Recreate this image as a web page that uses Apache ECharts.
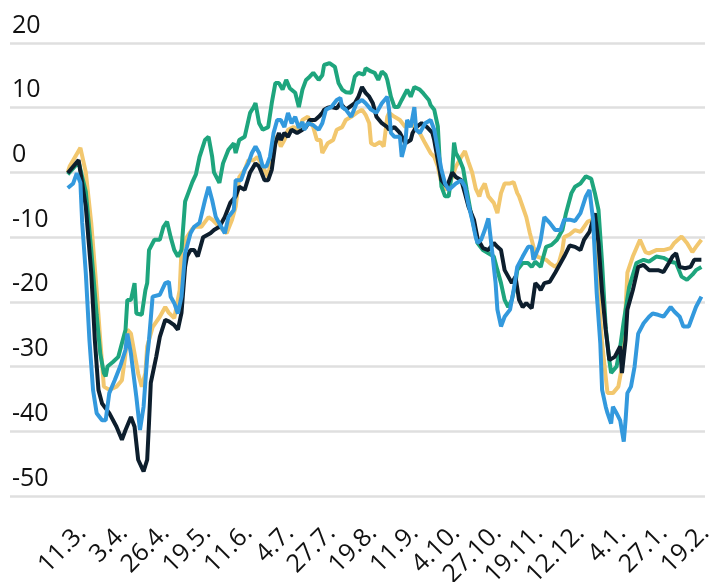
<!DOCTYPE html>
<html><head><meta charset="utf-8">
<script src="https://cdn.jsdelivr.net/npm/echarts@6/dist/echarts.min.js"></script>
<style>html,body{margin:0;padding:0;background:#fff}#c{width:716px;height:582px}</style>
</head><body><div id="c"></div>
<script>
// x values: days since 3 March 2020
const tickDays = [8,31,54,77,100,123,146,169,192,215,238,261,284,307,330,353];
const tickLabels = ['11.3.','3.4.','26.4.','19.5.','11.6.','4.7.','27.7.','19.8.','11.9.','4.10.','27.10.','19.11.','12.12.','4.1.','27.1.','19.2.'];
const yTicks = [-50,-40,-30,-20,-10,0,10,20];

const yellowSeries = [[0,0],[1,0.9],[7,3.8],[8,3.5],[10,0],[13,-7.8],[16,-18.2],[18,-25.9],[20,-33.1],[23,-33.6],[27,-33.1],[30,-32.1],[32,-28],[33,-24.3],[35,-24.9],[37,-28],[39,-31.1],[41,-33.1],[43,-31],[44,-26.9],[47,-23.9],[51,-22.3],[54,-20.8],[56,-21.7],[59,-22.5],[62,-18.2],[63,-12],[66,-10],[69,-8.7],[71,-8.4],[74,-8.4],[78,-6.9],[80,-7.3],[84,-8.4],[88,-9.4],[91,-7.3],[93,-5.3],[95,-0.7],[98,0.4],[100,1.9],[103,1.9],[105,2.4],[108,0.9],[111,-0.7],[114,5],[116,5.5],[118,4],[120,5],[122,6.6],[125,7],[128,6.6],[130,8.1],[133,8.6],[136,7],[138,5],[140,5],[141,3],[144,4.5],[147,5],[149,6.6],[152,7],[154,8.1],[157,8.6],[160,9.2],[163,9.7],[165,8.9],[167,7.6],[168,4.5],[170,4.2],[173,4.7],[175,4],[177,8.6],[178,9.2],[181,8.6],[184,8.1],[187,7],[190,7.6],[192,7],[195,6.1],[198,4.5],[201,3],[203,2.4],[205,0.9],[207,-1.7],[210,-2.7],[213,-0.7],[215,0.9],[218,2.4],[220,3.3],[222,1.6],[224,0],[226,-2.5],[228,-3.7],[229,-2.7],[231,-1.7],[233,-3.7],[236,-4.7],[238,-6.3],[240,-3.2],[242,-1.7],[245,-1.7],[247,-1.5],[249,-3.2],[250,-3.7],[252,-5.3],[254,-6.9],[256,-9.4],[258,-11.5],[260,-13],[262,-13.2],[265,-13.5],[267,-14],[270,-14.6],[272,-14],[274,-12],[275,-10],[278,-9.6],[281,-8.9],[284,-9.2],[286,-8.4],[288,-7.6],[291,-7.3],[292,-9],[294,-18.6],[296,-26.4],[298,-31.6],[299,-34.1],[302,-34.1],[305,-33.1],[307,-30],[309,-21.2],[310,-15.5],[313,-13],[317,-10.4],[320,-12.3],[322,-12.5],[326,-12],[330,-12],[334,-11.7],[336,-10.9],[340,-9.9],[343,-10.9],[346,-12.3],[348,-11.5],[351,-10.4]];

const greenSeries = [[0,-0.3],[6,1.6],[10,-3],[13,-12],[16,-22],[18,-28],[20,-31],[21,-31.5],[22,-30],[25,-29.3],[28,-28.5],[30,-26.4],[32,-24.3],[33,-19.7],[35,-19.7],[37,-17.1],[38,-21.8],[41,-22],[43,-18.2],[44,-17.1],[45,-12],[48,-10.4],[51,-10.4],[53,-8.4],[55,-7.6],[57,-10],[59,-12],[61,-13],[63,-12],[65,-4.5],[67,-3],[69,-1.5],[71,-0.3],[73,2.4],[76,5],[78,5.5],[80,2.4],[81,0],[84,-1.6],[86,1.4],[89,3.5],[92,4.5],[93,3],[95,5],[98,5.5],[101,9.2],[103,10.1],[104,10.7],[106,7.6],[108,6.6],[111,7],[113,10.7],[115,13.8],[117,13.8],[119,12.8],[121,14.3],[123,13],[126,12.3],[128,10.1],[130,12.8],[132,14.3],[134,14.8],[136,15.4],[139,14.3],[141,15],[142,16.6],[145,16.9],[148,16.3],[150,13.8],[152,12.8],[154,12.4],[157,12.3],[159,14.8],[161,15.4],[164,15.1],[165,16.1],[168,15.6],[170,15.4],[172,14.3],[174,15.6],[176,15.1],[177,14.3],[179,11.7],[181,10.1],[183,10.1],[185,11.2],[188,12.8],[190,11.7],[192,13.2],[195,12.8],[197,12.2],[200,11.2],[201,10.4],[203,9.7],[205,7.1],[206,1.9],[207,-2.2],[209,-3.7],[211,-3.7],[213,0.4],[214,4.6],[215,3],[217,2],[219,0.6],[221,-2.7],[223,-5.8],[225,-8.4],[227,-10.9],[230,-12],[233,-12.5],[236,-13],[238,-15.1],[240,-17.1],[242,-19.7],[244,-20.8],[246,-19.7],[248,-17.1],[249,-15.1],[252,-14],[255,-14],[257,-14.6],[259,-13.8],[262,-14.6],[263,-13.5],[265,-11.5],[268,-11.2],[271,-10.4],[274,-8.9],[276,-6.3],[279,-3.2],[281,-2.2],[284,-1.7],[287,-0.6],[288,-0.4],[290,-1],[292,-3.2],[294,-5.8],[296,-14],[298,-24],[300,-29],[301,-31],[304,-30],[306,-27],[308,-23],[311,-17.7],[315,-14],[319,-13.5],[322,-13.8],[326,-13],[330,-13.2],[334,-13.8],[337,-14],[340,-16.1],[343,-16.6],[346,-15.8],[348,-15.1],[351,-14.6]];

const navySeries = [[0,-0.1],[6,1.9],[10,-5.3],[13,-15.5],[15,-25.9],[17,-33.6],[19,-35.7],[23,-37.2],[27,-39.3],[30,-41.3],[32,-39.8],[35,-37.8],[37,-39.3],[39,-44.4],[42,-46.2],[44,-44.4],[45,-38.7],[46,-32.5],[49,-28.5],[51,-25.4],[54,-22.8],[56,-23],[59,-23.6],[61,-24.3],[63,-21.7],[65,-14.6],[66,-13],[68,-12],[70,-12],[72,-13],[75,-10],[79,-9.4],[81,-8.9],[84,-8.4],[87,-6.9],[90,-4.7],[93,-3.7],[95,-2.2],[98,-2.7],[101,0],[104,1.4],[106,0.9],[109,-1.2],[111,-1.2],[113,0.4],[115,4.5],[117,6.1],[118,5],[120,6.1],[122,5.5],[124,6.6],[127,6.1],[130,6.6],[132,7],[134,8.1],[137,8.1],[139,8.6],[141,9.2],[142,9.7],[144,10],[146,10.1],[149,9.9],[151,10.7],[154,9.7],[156,10.1],[159,10.7],[161,11.7],[163,13.2],[165,12.3],[167,11.7],[169,10.7],[171,8.6],[174,7.6],[177,7],[178,6.6],[181,7],[184,6.1],[187,4.5],[190,5],[191,6.1],[193,7],[196,7.6],[199,7],[202,6.1],[203,5],[205,1.9],[207,-1.2],[210,-2.2],[213,0],[215,-0.7],[218,-1.2],[220,-3.2],[222,-5.3],[225,-7.3],[227,-10.2],[230,-11.7],[233,-12],[236,-10.9],[238,-11.5],[240,-12],[242,-15.1],[244,-16.1],[246,-17.1],[248,-16.1],[250,-19.7],[252,-20.8],[254,-20.2],[257,-21],[259,-17.1],[261,-17.7],[262,-18.2],[264,-17.1],[267,-16.9],[270,-15.5],[273,-14],[275,-13],[278,-11.3],[281,-11.5],[284,-12],[286,-10.4],[289,-9.2],[291,-7.3],[292,-6.3],[294,-10.9],[296,-18.6],[298,-24.3],[300,-29],[303,-28.5],[306,-26.9],[307,-31],[309,-25.9],[310,-21.2],[313,-18.2],[316,-14.6],[319,-14.3],[322,-15.1],[324,-15.1],[327,-15.1],[330,-15.4],[333,-14],[335,-13],[337,-12.5],[339,-14.6],[342,-14.8],[345,-14.6],[347,-13.5],[351,-13.5]];

const blueSeries = [[0,-2.4],[3,-1.7],[5,-0.1],[7,-1.6],[8,-7.8],[10,-15.6],[12,-25.9],[14,-33.6],[16,-37.2],[19,-38.3],[21,-38.3],[23,-34.1],[26,-32.1],[29,-30],[32,-27.4],[33,-24.9],[35,-28],[38,-34.7],[40,-39.8],[42,-36.2],[44,-28.5],[45,-25.9],[47,-19.2],[51,-18.9],[54,-17.1],[56,-16.9],[57,-19.2],[59,-20.2],[61,-21.8],[63,-19.2],[65,-12.5],[66,-11.5],[68,-9.4],[70,-8.4],[73,-7.8],[76,-4.3],[78,-2.2],[80,-4.3],[82,-6.9],[85,-8.4],[87,-9.4],[89,-6.9],[92,-5.8],[93,-1.2],[96,-1.2],[98,0.4],[100,1.4],[102,3],[104,4],[106,3],[108,0.9],[110,0.9],[112,2.4],[114,6.1],[116,8.1],[118,8.1],[120,7],[122,9.2],[124,7.6],[126,8.6],[128,6.9],[130,7.8],[131,6.6],[133,7.6],[136,7.3],[139,6.6],[140,6.6],[141,7.6],[143,9.7],[146,10.1],[149,11.2],[151,11.5],[152,10.1],[154,9.7],[157,8.6],[160,10.7],[163,11.2],[165,10.7],[168,9.7],[171,9.2],[174,10.7],[177,11.7],[178,9.7],[179,6.1],[181,5.5],[184,5.5],[185,2.4],[187,4.5],[188,8.1],[190,7],[192,10.1],[193,6.6],[195,6.1],[198,7.6],[201,8.1],[203,6.6],[205,3.5],[207,0.4],[209,-1.7],[211,-2.7],[213,-2.2],[215,-1.7],[218,-1.2],[220,-2.2],[222,-5],[224,-7.3],[226,-10],[227,-10.9],[229,-10.4],[231,-8.9],[233,-7.1],[235,-12],[237,-17.1],[238,-21.2],[240,-23.8],[242,-22.3],[245,-21.2],[247,-18.2],[249,-14.6],[252,-13],[255,-11.5],[257,-11.5],[258,-13.5],[261,-11.5],[262,-10.4],[264,-6.9],[267,-7.8],[270,-8.9],[273,-8.9],[275,-7.3],[278,-7.3],[281,-7.5],[284,-6.3],[287,-3.7],[289,-2.7],[291,-7.3],[293,-18.6],[295,-26.4],[296,-33.6],[298,-36.2],[299,-37.2],[301,-38.8],[302,-36.2],[304,-37.2],[306,-38.3],[308,-41.6],[309,-38.3],[310,-34.1],[312,-33.1],[314,-30],[316,-24.9],[319,-23.3],[322,-22.3],[324,-21.8],[327,-22],[330,-22.3],[334,-20.8],[336,-21.5],[339,-22.3],[341,-23.8],[344,-23.8],[346,-22.3],[348,-20.8],[351,-19.2]];

const seriesList = [
  {name:'yellow', data:yellowSeries, color:'#f2c76e'},
  {name:'green', data:greenSeries, color:'#1ea57d'},
  {name:'navy', data:navySeries, color:'#0d1e2d'},
  {name:'blue', data:blueSeries, color:'#3399dd'}
];

const chart = echarts.init(document.getElementById('c'), null, {renderer:'canvas'});
const font = "'Open Sans', 'Noto Sans', sans-serif";
chart.setOption({
  animation:false,
  backgroundColor:'#ffffff',
  grid:{left:10, right:11, top:43, bottom:86, containLabel:false, outerBoundsMode:'none'},
  xAxis:{
    type:'value', min:-32, max:353,
    axisLine:{show:false}, axisTick:{show:false}, splitLine:{show:false},
    axisLabel:{
      customValues: tickDays,
      rotate:45, margin:33, fontSize:25, fontFamily:font, color:'#111',
      formatter:(v)=>{const i=tickDays.indexOf(Math.round(v)); return i>=0?tickLabels[i]:'';}
    }
  },
  yAxis:{
    type:'value', min:yTicks[0], max:yTicks[yTicks.length-1], interval:10,
    axisLine:{show:false}, axisTick:{show:false},
    splitLine:{lineStyle:{color:'#dfdfdf', width:2.5}},
    axisLabel:{inside:true, margin:2, fontSize:25, fontFamily:font, color:'#111',
      verticalAlign:'bottom', padding:[0,0,5,0]}
  },
  series: seriesList.map(s=>({
    type:'line', name:s.name, data:s.data, showSymbol:false, symbol:'none',
    lineStyle:{width:4, color:s.color}, itemStyle:{color:s.color}
  }))
});
</script></body></html>
